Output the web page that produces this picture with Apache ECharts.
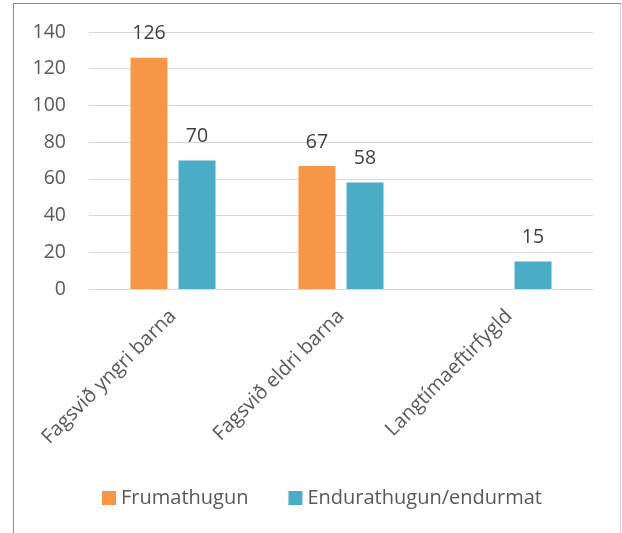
<!DOCTYPE html>
<html>
<head>
<meta charset="utf-8">
<script src="https://cdn.jsdelivr.net/npm/echarts@6/dist/echarts.min.js"></script>
<style>
  html, body { margin: 0; padding: 0; background: #fff; }
  .frame {
    position: absolute; left: 13px; top: 3px; width: 606px; height: 560px;
    border-left: 1px solid #8a8a8a; border-top: 1px solid #8a8a8a; border-right: 1px solid #d4d4d4;
  }
  #chart { position: absolute; left: 0; top: 0; width: 622px; height: 533px; }
</style>
</head>
<body>
<div class="frame"></div>
<div id="chart"></div>
<script>
  // gögn lesin af myndinni
  var categories = ['Fagsvið yngri barna', 'Fagsvið eldri barna', 'Langtímaeftirfygld'];
  var frumathugun = [126, 67, null];
  var endurathugun = [70, 58, 15];
  var yTicks = [0, 20, 40, 60, 80, 100, 120, 140];

  var font = '"Open Sans", sans-serif';
  var chart = echarts.init(document.getElementById('chart'));

  var option = {
    animation: false,
    textStyle: { fontFamily: font },
    color: ['#F79646', '#4BACC6'],
    grid: { left: 89, right: 29, top: 32, bottom: 244 },
    legend: {
      top: 483,
      left: 97,
      itemWidth: 14,
      itemHeight: 14,
      itemGap: 40,
      icon: 'rect',
      textStyle: { fontSize: 20, color: '#595959', fontFamily: font },
      data: ['Frumathugun', 'Endurathugun/endurmat']
    },
    xAxis: {
      type: 'category',
      data: categories,
      axisLine: { lineStyle: { color: '#d9d9d9', width: 1 } },
      axisTick: { show: false },
      axisLabel: {
        rotate: 45,
        margin: 24,
        fontSize: 20,
        color: '#595959',
        fontFamily: font,
        interval: 0
      }
    },
    yAxis: {
      type: 'value',
      min: yTicks[0],
      max: yTicks[yTicks.length - 1],
      interval: 20,
      axisLine: { show: false },
      axisTick: { show: false },
      splitLine: { lineStyle: { color: '#d9d9d9', width: 1 } },
      axisLabel: { fontSize: 19.5, color: '#595959', margin: 23, fontFamily: font }
    },
    series: [{
      name: 'Frumathugun',
      type: 'bar',
      data: frumathugun,
      barWidth: '22%',
      barGap: '30%',
      label: { show: true, position: 'top', distance: 14, fontSize: 19.5, color: '#404040', fontFamily: font }
    }, {
      name: 'Endurathugun/endurmat',
      type: 'bar',
      data: endurathugun,
      barWidth: '22%',
      label: { show: true, position: 'top', distance: 14, fontSize: 19.5, color: '#404040', fontFamily: font }
    }]
  };

  chart.setOption(option);
</script>
</body>
</html>
